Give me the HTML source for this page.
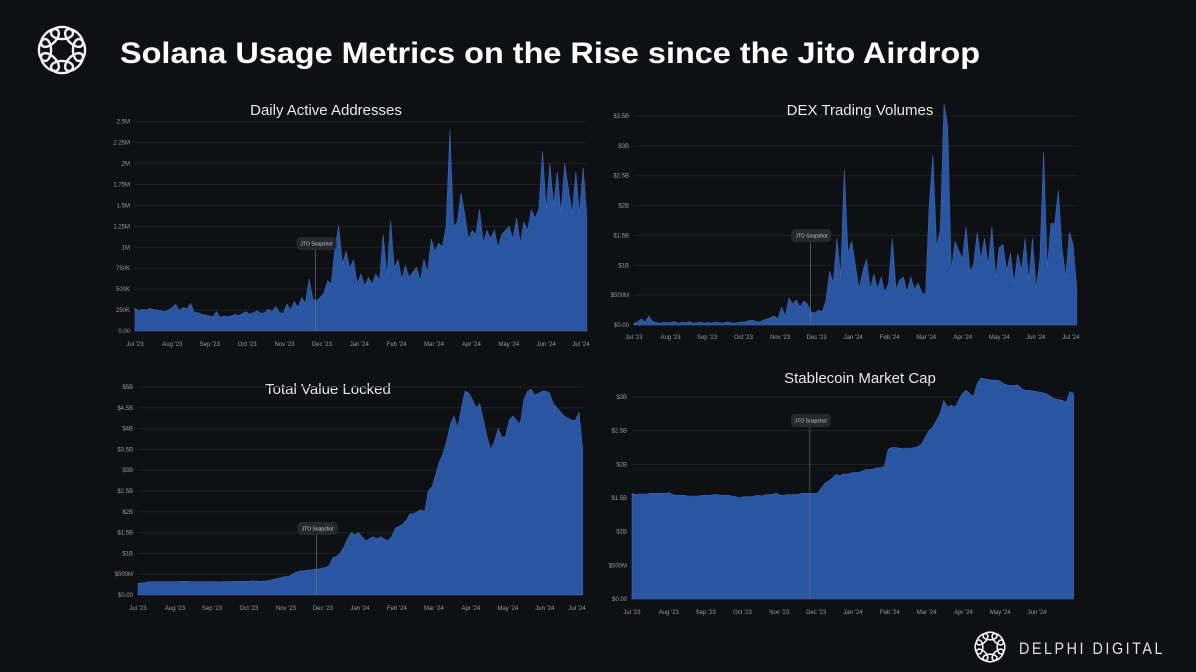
<!DOCTYPE html>
<html><head><meta charset="utf-8">
<style>
html,body{margin:0;padding:0;background:#0f1013;}
svg{display:block;font-family:"Liberation Sans",sans-serif;}
</style></head>
<body>
<svg id="root" width="1196" height="672" viewBox="0 0 1196 672">
<rect x="0" y="0" width="1196" height="672" fill="#0f1013"/>
<g id="logo"></g>
<text x="120" y="63" font-size="30" font-weight="bold" fill="#ffffff" textLength="860" lengthAdjust="spacingAndGlyphs">Solana Usage Metrics on the Rise since the Jito Airdrop</text>
<g id="flogo"></g>
<text x="1019" y="654" font-size="17" fill="#e0e0e0" letter-spacing="3" textLength="146" lengthAdjust="spacingAndGlyphs">DELPHI DIGITAL</text>
<g id="charts"></g>
</svg>
<script>
// ---- data ----
const monthLabels = ["Jul '23","Aug '23","Sep '23","Oct '23","Nov '23","Dec '23","Jan '24","Feb '24","Mar '24","Apr '24","May '24","Jun '24","Jul '24"];
const daaValues = [270,240,260,250,270,255,250,240,230,250, 280,320,240,280,260,330,220,220,200,190, 180,170,230,160,180,170,180,200,180,210, 230,200,220,240,210,220,260,230,290,220, 210,320,250,350,280,400,330,620,380,360, 400,450,600,560,1000,1260,800,950,750,850, 560,680,540,640,560,680,600,1150,650,1320, 750,850,620,780,640,700,760,600,850,700, 1100,950,1050,1000,1250,2400,1250,1300,1650,1400, 1100,1200,1150,1450,1050,1200,1100,1200,1000,1150, 1200,1250,1100,1350,1050,1300,1200,1450,1350,1450, 2150,1450,2000,1500,1900,1400,2000,1700,1400,1900, 1400,1950,1350];
const daaTicks = ["0.00","250K","500K","750K","1M","1.25M","1.5M","1.75M","2M","2.25M","2.5M"];
const dexValues = [0.03,0.05,0.1,0.05,0.15,0.06,0.04,0.03,0.05,0.04, 0.04,0.06,0.03,0.05,0.04,0.06,0.03,0.04,0.05,0.03, 0.04,0.03,0.05,0.04,0.03,0.05,0.04,0.03,0.04,0.05, 0.05,0.07,0.08,0.06,0.05,0.08,0.1,0.12,0.15,0.1, 0.3,0.15,0.45,0.35,0.42,0.3,0.4,0.35,0.22,0.2, 0.25,0.22,0.4,0.9,0.7,1.45,0.8,2.6,1.2,1.4, 1.0,0.6,0.9,1.1,0.6,0.85,0.6,0.8,0.55,0.7, 1.45,0.6,0.75,0.8,0.55,0.8,0.6,0.7,0.55,0.5, 2.0,2.85,1.3,1.6,3.7,3.35,0.9,1.4,1.25,1.1, 1.65,0.9,1.0,1.55,1.1,1.45,1.0,1.65,0.8,1.3, 1.35,0.9,1.2,0.7,1.2,0.9,1.45,0.75,1.45,0.6, 1.1,2.9,0.95,1.7,1.7,2.25,1.3,0.8,1.55,1.35, 0.6];
const dexTicks = ["$0.00","$500M","$1B","$1.5B","$2B","$2.5B","$3B","$3.5B"];
const tvlValues = [0.28,0.29,0.3,0.32,0.32,0.32,0.32,0.32,0.32,0.32, 0.32,0.32,0.33,0.33,0.32,0.32,0.32,0.32,0.32,0.32, 0.32,0.32,0.31,0.32,0.32,0.32,0.33,0.33,0.33,0.33, 0.33,0.34,0.34,0.33,0.33,0.34,0.36,0.38,0.4,0.42, 0.44,0.45,0.5,0.55,0.58,0.58,0.6,0.6,0.62,0.62, 0.65,0.66,0.7,0.9,0.92,1.0,1.15,1.35,1.5,1.45, 1.5,1.4,1.3,1.35,1.4,1.35,1.4,1.35,1.3,1.4, 1.6,1.65,1.7,1.8,1.95,1.95,2.0,2.05,2.0,2.5, 2.6,2.9,3.2,3.4,3.7,4.1,4.3,4.0,4.5,4.9, 4.85,4.7,4.5,4.6,4.2,3.8,3.5,3.7,4.0,3.8, 3.8,4.2,4.3,4.2,4.1,4.7,4.9,4.95,4.8,4.85, 4.9,4.9,4.85,4.6,4.5,4.4,4.3,4.25,4.2,4.2, 4.4,3.5];
const tvlTicks = ["$0.00","$500M","$1B","$1.5B","$2B","$2.5B","$3B","$3.5B","$4B","$4.5B","$5B"];
const stableValues = [1.57,1.55,1.56,1.56,1.56,1.57,1.57,1.57,1.57,1.57, 1.58,1.55,1.54,1.54,1.54,1.53,1.53,1.53,1.53,1.54, 1.54,1.54,1.55,1.55,1.54,1.54,1.54,1.53,1.52,1.50, 1.52,1.52,1.52,1.53,1.54,1.53,1.55,1.55,1.56,1.57, 1.54,1.54,1.55,1.55,1.55,1.56,1.57,1.57,1.57,1.57, 1.57,1.65,1.72,1.75,1.8,1.85,1.83,1.86,1.85,1.87, 1.88,1.88,1.9,1.92,1.92,1.93,1.95,1.95,1.97,2.22, 2.25,2.25,2.24,2.23,2.24,2.24,2.25,2.26,2.3,2.4, 2.5,2.55,2.65,2.75,2.95,2.85,2.88,2.85,2.95,3.05, 3.1,3.05,3.0,3.2,3.28,3.27,3.26,3.25,3.25,3.24, 3.2,3.18,3.17,3.17,3.18,3.12,3.1,3.1,3.09,3.08, 3.07,3.06,3.04,3.0,2.97,2.96,2.95,2.92,3.08,3.05];
const stableTicks = ["$0.00","$500M","$1B","$1.5B","$2B","$2.5B","$3B"];
const snapshotDay = 147;

const NS = "http://www.w3.org/2000/svg";
function el(tag, attrs, parent){const e=document.createElementNS(NS,tag);for(const k in attrs)e.setAttribute(k,attrs[k]);parent.appendChild(e);return e;}

function drawChart(cfg){
  const g = el('g',{},document.getElementById('charts'));
  
  
  const x = d => cfg.x0 + d*cfg.ppd;
  const y = v => cfg.y0 - (v/cfg.vmax)*(cfg.y0-cfg.y1);
  const t = el('text',{x:cfg.tx,y:cfg.ty,'font-size':15,fill:'#e8e8e8','text-anchor':'middle'},g);
  t.textContent = cfg.title;
  
  
  cfg.ticks.forEach((lab,i)=>{
    const v = i*cfg.step, yy = y(v);
    const ln = el('line',{x1:cfg.x0,x2:cfg.xr,y1:yy,y2:yy,stroke:'#1f2126','stroke-width':1},g);
    
    
    const tt = el('text',{x:cfg.x0-5,y:yy+2,'font-size':6,fill:'#9a9a9a','text-anchor':'end'},g);
    tt.textContent = lab;
    
    
  });
  const vals = cfg.values;
  const stepDays = cfg.endDay/(vals.length-1);
  let d = 'M'+x(0)+','+y(0);
  vals.forEach((v,i)=>{ d += ' L'+x(i*stepDays).toFixed(1)+','+y(v).toFixed(1); });
  const lastX = x((vals.length-1)*stepDays);
  d += ' L'+lastX.toFixed(1)+','+y(0)+' Z';
  const p = el('path',{d:d,fill:'#2a55a0',stroke:'#3a68b8','stroke-width':0.6},g);
  
  
  cfg.months.forEach((lab,i)=>{
    let xx = x(i*30.44); if (xx > cfg.xr-6) xx = cfg.xr-6;
    const tt = el('text',{x:xx,y:cfg.ly,'font-size':6,fill:'#9a9a9a','text-anchor':'middle'},g);
    tt.textContent = lab;
    
    
  });
  const sx = x(snapshotDay);
  const ml = el('line',{x1:sx,x2:sx,y1:cfg.sy+13,y2:cfg.y0,stroke:'#6a6f7a','stroke-width':0.7},g);
  
  
  const r = el('rect',{x:sx-19,y:cfg.sy,width:40,height:13,rx:4,fill:'#26282e'},g);
  
  
  const st = el('text',{x:sx+1,y:cfg.sy+8.5,'font-size':5,fill:'#c8c8c8','text-anchor':'middle'},g);
  st.textContent = 'JTO Snapshot';
  
  
}

drawChart({name:'daily-active-addresses-chart',title:'Daily Active Addresses',tx:326,ty:115,values:daaValues,ticks:daaTicks,step:250,vmax:2500,x0:135,xr:587,ppd:1.228,endDay:368,y0:331,y1:121.7,ly:346,sy:237,months:monthLabels});
drawChart({name:'dex-volume-chart',title:'DEX Trading Volumes',tx:860,ty:115,values:dexValues,ticks:dexTicks,step:0.5,vmax:3.5,x0:634,xr:1077,ppd:1.20,endDay:369,y0:325,y1:116,ly:339,sy:229,months:monthLabels});
drawChart({name:'tvl-chart',title:'Total Value Locked',tx:328,ty:394,values:tvlValues,ticks:tvlTicks,step:0.5,vmax:5,x0:138,xr:583,ppd:1.215,endDay:366,y0:595,y1:387,ly:610,sy:522,months:monthLabels});
drawChart({name:'stablecoin-chart',title:'Stablecoin Market Cap',tx:860,ty:383,values:stableValues,ticks:stableTicks,step:0.5,vmax:3,x0:632,xr:1074,ppd:1.21,endDay:365,y0:599,y1:397,ly:614,sy:414,months:monthLabels.slice(0,12)});

function drawLogo(id,cx,cy,R,r,sw){
  const g=document.getElementById(id);
  for(let i=0;i<8;i++){
    const a=i*Math.PI/4;
    const ex=cx+R*Math.cos(a), ey=cy+R*Math.sin(a);
    const c=el('ellipse',{cx:ex,cy:ey,rx:r,ry:r*0.55,transform:'rotate('+(a*180/Math.PI+90)+' '+ex+' '+ey+')',fill:'none',stroke:'#f2f2f2','stroke-width':sw},g);
    
    
  }
}
drawLogo('logo',62,50,17,11,2.4);
drawLogo('flogo',990,647,11,7,1.6);
</script>
</body></html>
